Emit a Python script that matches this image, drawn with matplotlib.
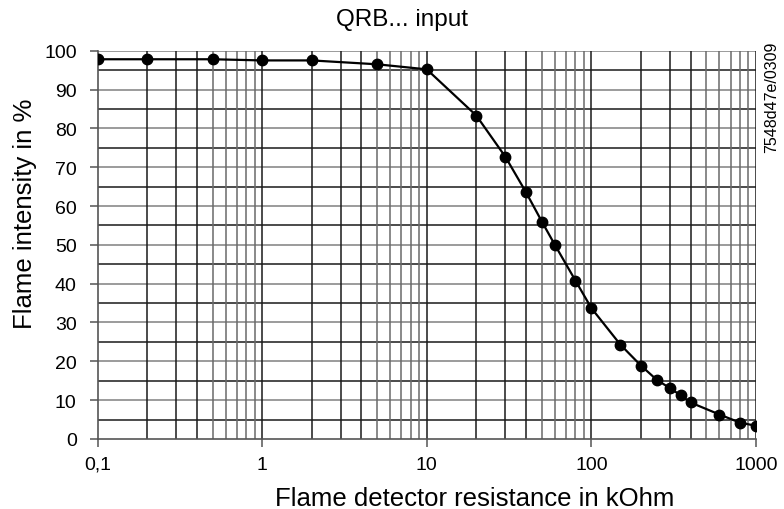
import matplotlib
matplotlib.use("Agg")
import matplotlib.pyplot as plt

# Data
resistance_kohm = [0.1, 0.2, 0.5, 1, 2, 5, 10, 20, 30, 40, 50, 60, 80, 100,
                   150, 200, 250, 300, 350, 400, 600, 800, 1000]
flame_intensity = [97.8, 97.8, 97.8, 97.5, 97.5, 96.5, 95.2, 83.3, 72.7, 63.6,
                   56.0, 50.0, 40.8, 33.7, 24.3, 18.9, 15.2, 13.1, 11.2, 9.4,
                   6.3, 4.2, 3.4]
x_ticks = [0.1, 1, 10, 100, 1000]
x_tick_labels = ["0,1", "1", "10", "100", "1000"]
y_ticks = list(range(0, 101, 10))

plt.rcParams["font.family"] = ["Liberation Sans", "DejaVu Sans"]

fig = plt.figure(figsize=(7.84, 5.10), dpi=100)
ax = fig.add_axes([0.1244, 0.1373, 0.9643 - 0.1244, 0.8986 - 0.1373])

ax.set_xscale("log")
ax.set_xlim(0.1, 1000)
ax.set_ylim(0, 100)

# grid: horizontal every 5, vertical at every 1..9 of each decade
for y in range(5, 101, 5):
    col = "#808080" if y % 10 == 0 else "#1a1a1a"
    ax.axhline(y, color=col, lw=1.1, zorder=1)
for dec in [0.1, 1, 10, 100]:
    for m in range(2, 11):
        col = "#1a1a1a" if m in (2, 3, 4, 10) else "#6a6a6a"
        ax.axvline(dec * m, color=col, lw=1.1, zorder=1)

ax.plot(resistance_kohm, flame_intensity, color="black", lw=1.6,
        marker="o", markersize=7.5, zorder=3)

for s in ["top", "right"]:
    ax.spines[s].set_visible(False)
for s in ["left", "bottom"]:
    ax.spines[s].set_color("#555")
    ax.spines[s].set_linewidth(1.2)

ax.set_xticks(x_ticks)
ax.set_xticklabels(x_tick_labels)
ax.xaxis.set_minor_locator(matplotlib.ticker.NullLocator())
ax.set_yticks(y_ticks)
ax.tick_params(axis="both", labelsize=14, length=6, width=1.1, color="#555")
ax.tick_params(axis="x", pad=6)
ax.tick_params(axis="y", pad=9)

fig.text(475 / 784, 1 - 506.5 / 510, "Flame detector resistance in kOhm",
         fontsize=18.5, ha="center", va="baseline")
fig.text(25 / 784, 1 - 214 / 510, "Flame intensity in %", fontsize=18.5,
         rotation=90, ha="center", va="center")
fig.text(402 / 784, 1 - 20 / 510, "QRB... input", fontsize=17.5,
         ha="center", va="center")
fig.text(772 / 784, 1 - 97 / 510, "7548d47e/0309", rotation=90,
         fontsize=11.5, ha="center", va="center")

fig.savefig("out.png", dpi=100)
